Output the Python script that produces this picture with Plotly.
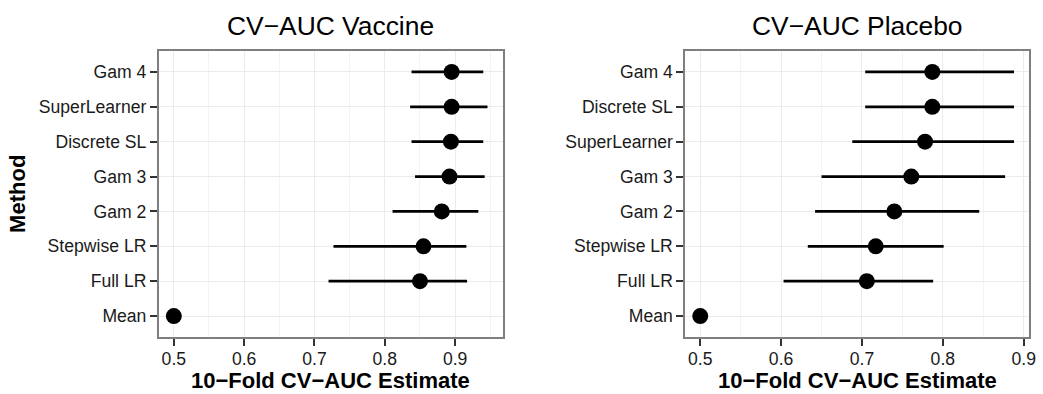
import plotly.graph_objects as go

# CV-AUC estimates with 95% intervals, per method (bottom row first)
vac_methods = ["Mean", "Full LR", "Stepwise LR", "Gam 2", "Gam 3",
               "Discrete SL", "SuperLearner", "Gam 4"]
vac_est = [0.500, 0.850, 0.855, 0.881, 0.892, 0.894, 0.895, 0.895]
vac_lo = [0.500, 0.720, 0.727, 0.811, 0.843, 0.838, 0.836, 0.838]
vac_hi = [0.500, 0.917, 0.916, 0.933, 0.942, 0.940, 0.946, 0.940]

pla_methods = ["Mean", "Full LR", "Stepwise LR", "Gam 2", "Gam 3",
               "SuperLearner", "Discrete SL", "Gam 4"]
pla_est = [0.500, 0.706, 0.717, 0.740, 0.761, 0.778, 0.787, 0.787]
pla_lo = [0.500, 0.603, 0.633, 0.642, 0.650, 0.688, 0.704, 0.704]
pla_hi = [0.500, 0.788, 0.801, 0.845, 0.877, 0.888, 0.888, 0.888]

x_ticks = [0.5, 0.6, 0.7, 0.8, 0.9]

W, H = 1043, 394
FONT = "Liberation Sans, Arial, Helvetica, sans-serif"


def px_x(v):
    return v / W


def px_y(v):
    return 1 - v / H


def panel_trace(methods, est, lo, hi, xa, ya):
    plus = [h - e for e, h in zip(est, hi)]
    minus = [e - l for e, l in zip(est, lo)]
    return go.Scatter(
        x=est, y=methods, mode="markers", xaxis=xa, yaxis=ya,
        marker=dict(color="black", size=16, line=dict(width=0)),
        error_x=dict(type="data", array=plus, arrayminus=minus,
                     color="black", thickness=2.8, width=0),
        showlegend=False, hoverinfo="x+y",
    )


fig = go.Figure()
fig.add_trace(panel_trace(vac_methods, vac_est, vac_lo, vac_hi, "x", "y"))
fig.add_trace(panel_trace(pla_methods, pla_est, pla_lo, pla_hi, "x2", "y2"))

panel_top, panel_bottom = 51, 337
left_dom = [px_x(160), px_x(506)]
right_dom = [px_x(690), px_x(1036)]
y_dom = [px_y(panel_bottom), px_y(panel_top)]


def x_axis(dom, rng):
    return dict(
        domain=dom, range=rng, tickvals=x_ticks,
        ticktext=[f"{t:g}" for t in x_ticks],
        showline=True, mirror=True, linecolor="#7F7F7F", linewidth=2,
        ticks="outside", ticklen=7, tickwidth=2, tickcolor="#333333",
        ticklabelstandoff=-2,
        showgrid=True, gridcolor="#EBEBEB", gridwidth=1.4,
        minor=dict(tick0=0.55, dtick=0.1, showgrid=True,
                   gridcolor="#F3F3F3", gridwidth=1, ticks=""),
        zeroline=False, ticklabeloverflow="allow",
        tickfont=dict(family=FONT, size=17.6, color="#1A1A1A"),
    )


def y_axis(dom, order, anchor):
    return dict(
        domain=dom, type="category", categoryorder="array",
        categoryarray=order, range=[-0.6, 7.6], anchor=anchor,
        showline=True, mirror=True, linecolor="#7F7F7F", linewidth=2,
        ticks="outside", ticklen=7, tickwidth=2, tickcolor="#333333",
        showgrid=True, gridcolor="#EBEBEB", gridwidth=1.4,
        zeroline=False,
        tickfont=dict(family=FONT, size=17.6, color="#1A1A1A"),
    )


fig.update_layout(
    width=W, height=H,
    margin=dict(l=0, r=0, t=0, b=0),
    paper_bgcolor="white", plot_bgcolor="white",
    xaxis=x_axis(left_dom, [0.4788, 0.9675]) | dict(anchor="y"),
    yaxis=y_axis(y_dom, vac_methods, "x"),
    xaxis2=x_axis(right_dom, [0.4816, 0.9066]) | dict(anchor="y2"),
    yaxis2=y_axis(y_dom, pla_methods, "x2"),
    font=dict(family=FONT, color="black"),
)

ann = []
for dom, title in [(left_dom, "CV\u2212AUC Vaccine"),
                   (right_dom, "CV\u2212AUC Placebo")]:
    cx = (dom[0] + dom[1]) / 2
    ann.append(dict(x=cx, y=px_y(26), xref="paper", yref="paper",
                    text=title, showarrow=False, xanchor="center",
                    yanchor="middle",
                    font=dict(family=FONT, size=26.4, color="black")))
    ann.append(dict(x=cx, y=0, xref="paper", yref="paper",
                    text="<b>10\u2212Fold CV\u2212AUC Estimate</b>",
                    showarrow=False, xanchor="center", yanchor="bottom",
                    borderpad=0,
                    font=dict(family=FONT, size=22, color="black")))
ann.append(dict(x=px_x(17), y=px_y((panel_top + panel_bottom) / 2),
                xref="paper", yref="paper", text="<b>Method</b>",
                showarrow=False, textangle=-90, xanchor="center",
                yanchor="middle",
                font=dict(family=FONT, size=22, color="black")))
fig.update_layout(annotations=ann)

fig.write_html("out.html")
